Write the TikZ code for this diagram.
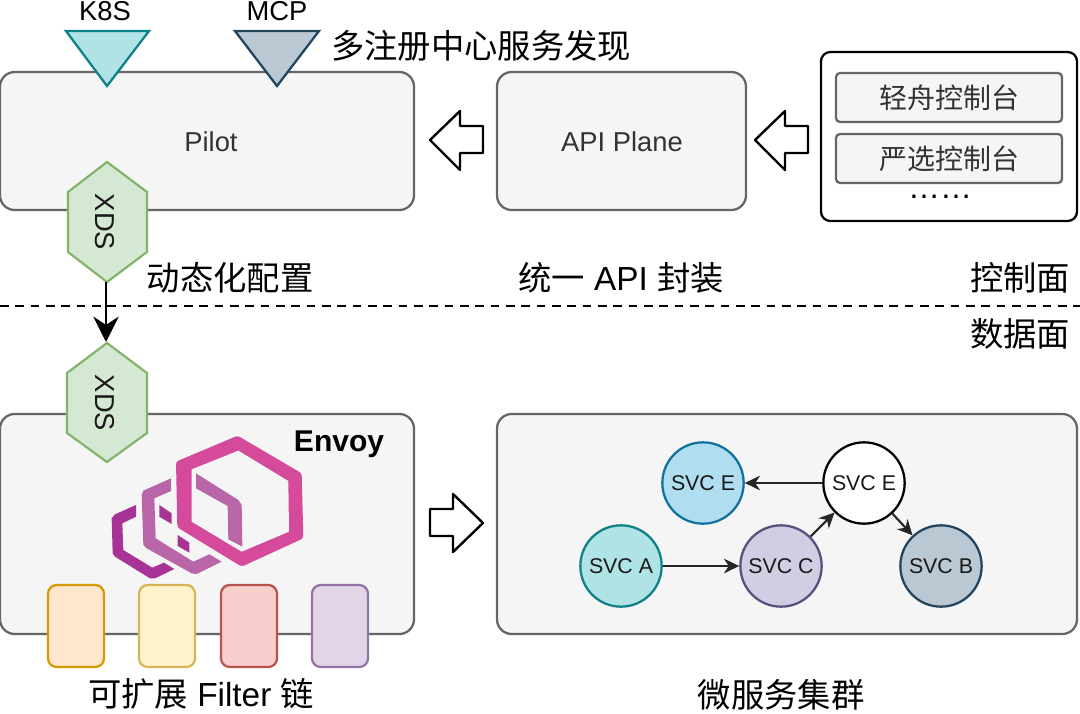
\documentclass[tikz,border=0pt]{standalone}
\usepackage{fontspec}
\setmainfont{Liberation Sans}
\newfontfamily\cjk{Noto Sans CJK SC}
\usetikzlibrary{arrows.meta,shapes.geometric}
\definecolor{boxg}{HTML}{F5F5F5}
\definecolor{boxl}{HTML}{666666}
\definecolor{txt}{HTML}{333333}
\definecolor{grf}{HTML}{D5E8D4}\definecolor{grd}{HTML}{82B366}
\definecolor{tef}{HTML}{B0E3E6}\definecolor{ted}{HTML}{0E8088}
\definecolor{slf}{HTML}{BAC8D3}\definecolor{sld}{HTML}{23445D}
\definecolor{blf}{HTML}{B1DDF0}\definecolor{bld}{HTML}{10739E}
\definecolor{puf}{HTML}{D0CEE2}\definecolor{pud}{HTML}{56517E}
\definecolor{f1f}{HTML}{FFE6CC}\definecolor{f1d}{HTML}{D79B00}
\definecolor{f2f}{HTML}{FFF2CC}\definecolor{f2d}{HTML}{D6B656}
\definecolor{f3f}{HTML}{F8CECC}\definecolor{f3d}{HTML}{B85450}
\definecolor{f4f}{HTML}{E1D5E7}\definecolor{f4d}{HTML}{9673A6}
\tikzset{
 x=0.75pt,y=-0.75pt,
 panel/.style={draw=boxl,fill=boxg,line width=1.7pt,rounded corners=11pt},
 cbox/.style={draw=boxl,fill=boxg,line width=1.7pt,rounded corners=3pt},
 svc/.style={circle,draw=#1,line width=1.7pt,minimum size=61pt,inner sep=0pt,font=\fontsize{16}{16}\selectfont,text=black!90},
 flt/.style={rounded corners=6.5pt,line width=1.7pt},
 hollow/.style={draw=black,fill=white,line width=1.8pt,line join=round},
 hexa/.style={draw=grd,fill=grf,line width=1.6pt},
 lat/.style={font=\fontsize{20.5}{22}\selectfont},
 lbl/.style={font=\fontsize{25}{27}\selectfont,inner sep=0pt,text height=22pt,text depth=3pt},
 clbl/.style={text=txt,font=\fontsize{21}{24}\selectfont\cjk,inner sep=0pt,text height=18.5pt,text depth=2.5pt},
 edge/.style={-{Stealth[length=11.5pt,width=11pt]},line width=1.6pt,draw=black!85},
 bigedge/.style={-{Stealth[length=19pt,width=19pt]},line width=1.9pt,draw=black},
}
\begin{document}
\begin{tikzpicture}
\useasboundingbox (0,0) rectangle (1080,713);
\fill[white] (0,0) rectangle (1080,713);
% panels
\draw[panel] (0,72) rectangle (414,210);
\node[lat,text=txt] (pilot) at (211,142) {Pilot};
\draw[panel] (497,72) rectangle (746,210);
\node[lat,text=txt] (api) at (622,142) {API Plane};
\draw[draw=black,fill=white,line width=1.7pt,rounded corners=7pt] (821,52) rectangle (1077,221);
\draw[cbox] (836,73) rectangle (1062,122);
\node[clbl] (c1) at (949,98) {轻舟控制台};
\draw[cbox] (836,134) rectangle (1062,183);
\node[clbl] (c2) at (949,159) {严选控制台};
\node[font=\fontsize{24}{24}\selectfont,inner sep=0pt,text height=4pt,text depth=0pt] (dots) at (940,196) {……};
% triangles
\draw[draw=ted,fill=tef,line width=1.7pt] (66,31) -- (149,31) -- (107,86) -- cycle;
\draw[draw=sld,fill=slf,line width=1.7pt] (235,31) -- (319,31) -- (277,86) -- cycle;
\node[lat] (k8s) at (105,11) {K8S};
\node[lat] (mcp) at (277,11) {MCP};
\node[lbl] (reg) at (481,46) {\cjk 多注册中心服务发现};
% hollow arrows
\draw[hollow] (430,140) -- (460,111) -- (460,126) -- (483,126) -- (483,153) -- (460,153) -- (460,170) -- cycle;
\draw[hollow] (755,140) -- (785,111) -- (785,126) -- (808,126) -- (808,153) -- (785,153) -- (785,170) -- cycle;
\draw[hollow] (483,523) -- (453,494) -- (453,509) -- (430,509) -- (430,536) -- (453,536) -- (453,552) -- cycle;
% separator
\draw[line width=1.6pt,dash pattern=on 6.5pt off 5pt] (0,306) -- (1080,306);
% envoy
\draw[panel] (0,414) rectangle (414,634);
\draw[panel] (497,414) rectangle (1077,634);
\node[font=\fontsize{22.5}{24}\selectfont\bfseries] (envoy) at (339,444) {Envoy};
\begin{scope}[shift={(90,420)},x=0.25pt,y=-0.25pt]
\definecolor{ea}{HTML}{D54A9A}\definecolor{eb}{HTML}{B966A9}\definecolor{ec}{HTML}{A83396}
\fill[ea,rounded corners=2pt] (258,125) -- (443,47) -- (635,160) -- (640,355) -- (455,440) -- (262,322) -- cycle;
\fill[boxg] (305,148) -- (445,92) -- (595,183) -- (597,335) -- (455,395) -- (305,305) -- cycle;
\fill[eb] (318,160) -- (445,240) -- (455,255) -- (457,380) -- (415,358) -- (413,258) -- (318,205) -- cycle;
\fill[eb] (243,175) -- (160,212) -- (155,225) -- (160,375) -- (170,385) -- (305,460) -- (320,462) -- (395,425) -- (358,403) -- (310,425) -- (197,355) -- (193,235) -- (243,213) -- cycle;
\fill[ec] (138,255) -- (138,290) -- (97,310) -- (100,390) -- (187,443) -- (222,428) -- (253,447) -- (195,475) -- (180,475) -- (75,410) -- (68,400) -- (65,295) -- (75,283) -- cycle;
\fill[ec] (208,255) -- (245,280) -- (245,312) -- (208,290) -- cycle;
\fill[ec] (263,345) -- (298,368) -- (298,398) -- (263,378) -- cycle;
\end{scope}
% xds
\draw[hexa] (107,162) -- (147,192) -- (147,252) -- (107,282) -- (68,252) -- (68,192) -- cycle;
\coordinate (xa) at (106,282);
\node[rotate=-90,lat,text=black!90] (x1) at (105,222) {XDS};
\coordinate (xb) at (106,342);
\draw[bigedge] (xa) -- (xb);
\draw[hexa] (107,343) -- (147,373) -- (147,433) -- (107,462) -- (67,433) -- (67,373) -- cycle;
\node[rotate=-90,lat,text=black!90] (x2) at (105,403) {XDS};
% filters
\draw[flt,draw=f1d,fill=f1f] (48,585) rectangle (104,667);
\draw[flt,draw=f2d,fill=f2f] (139,585) rectangle (195,667);
\draw[flt,draw=f3d,fill=f3f] (221,585) rectangle (277,667);
\draw[flt,draw=f4d,fill=f4f] (312,585) rectangle (368,667);
% services
\node[svc=bld,fill=blf] (e1) at (703,483) {SVC E};
\node[svc=black,fill=white] (e2) at (864,483) {SVC E};
\node[svc=ted,fill=tef] (a) at (621,566) {SVC A};
\node[svc=pud,fill=puf] (c) at (781,566) {SVC C};
\node[svc=sld,fill=slf] (b) at (941,566) {SVC B};
\draw[edge] (a) -- (c);
\draw[edge] (c) -- (e2);
\draw[edge] (e2) -- (e1);
\draw[edge] (e2) -- (b);
% labels
\node[lbl] (l1) at (230,278) {\cjk 动态化配置};
\node[lbl] (l2) at (621,278) {{\cjk 统一} API {\cjk 封装}};
\node[lbl] (l3) at (1020,278) {\cjk 控制面};
\node[lbl] (l4) at (1020,334) {\cjk 数据面};
\node[lbl] (l5) at (201,694) {{\cjk 可扩展} Filter {\cjk 链}};
\node[lbl] (l6) at (781,695) {\cjk 微服务集群};
\end{tikzpicture}
\end{document}
